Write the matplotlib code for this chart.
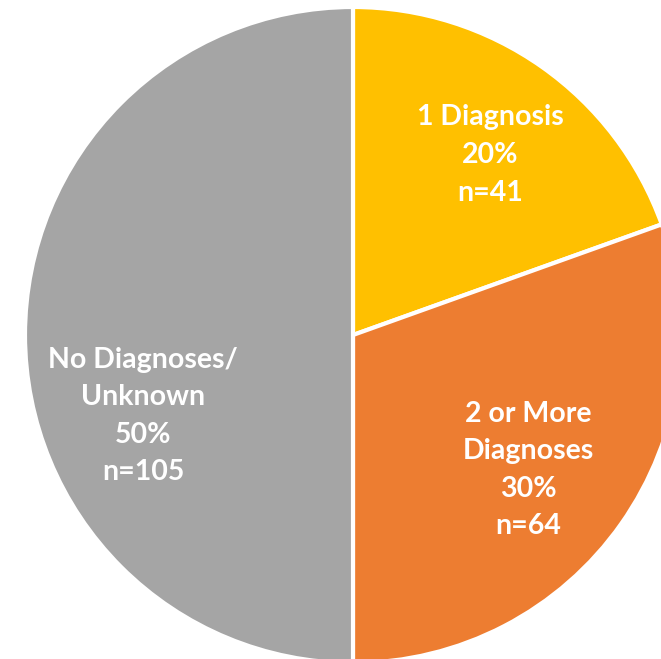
import matplotlib.pyplot as plt

# data
categories = ['1 Diagnosis', '2 or More\nDiagnoses', 'No Diagnoses/\nUnknown']
counts = [41, 64, 105]
percents = ['20%', '30%', '50%']
colors = ['#FFC000', '#ED7D31', '#A5A5A5']

W, H = 661, 659
fig = plt.figure(figsize=(W / 100, H / 100), dpi=100)
ax = fig.add_axes([0, 0, 1, 1])

# pie is bigger than the canvas on the right, so work in pixel units
cx, cy, r = 353, H - 335, 328
ax.pie(counts, colors=colors, startangle=90, counterclock=False,
       radius=r, center=(cx, cy),
       wedgeprops=dict(edgecolor='white', linewidth=3))
ax.set_xlim(0, W)
ax.set_ylim(0, H)
ax.set_aspect('equal')
ax.axis('off')

# label centres (pixel coords, y from top)
label_pos = [(490, 155), (528, 470), (143, 416)]
for (x, y), cat, p, n in zip(label_pos, categories, percents, counts):
    ax.text(x, H - y, f'{cat}\n{p}\nn={n}', ha='center', va='center',
            color='white', fontsize=20.5, fontweight='bold', family='Lato',
            linespacing=1.55)

fig.savefig('out.png', dpi=100)
